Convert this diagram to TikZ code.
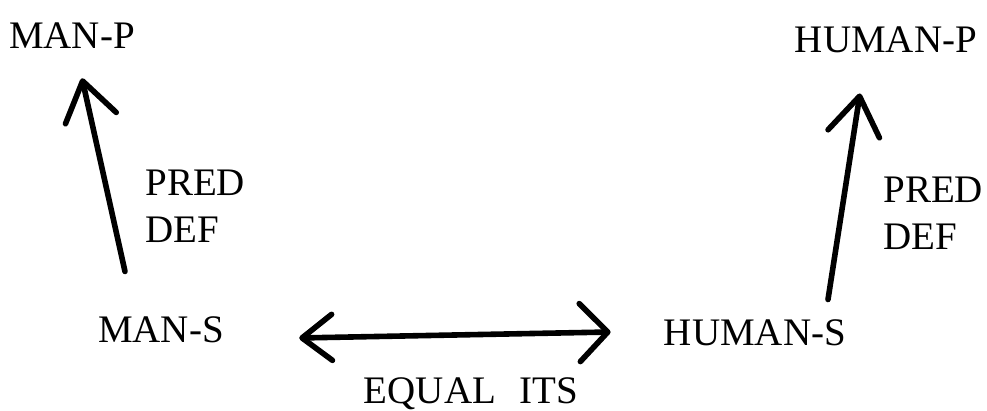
\documentclass[tikz,border=0pt]{standalone}
\usepackage{fontspec}
\setmainfont{Liberation Serif}
\usetikzlibrary{arrows.meta}
\begin{document}
\begin{tikzpicture}[x=0.5pt,y=0.5pt,
  lbl/.style={inner sep=0pt,font=\fontsize{19.5}{23.5}\selectfont},
  vec/.style={line width=2.8pt,line cap=round,-{Straight Barb[length=19pt,width=26pt,round]}},
  eqv/.style={line width=2.8pt,line cap=round,{Straight Barb[length=15pt,width=23pt,round]}-{Straight Barb[length=14pt,width=29pt,round]}}]
\useasboundingbox (0,0) rectangle (987,411);
\node[lbl] (manp) at (72,375) {MAN-P};
\node[lbl] (humanp) at (886,371) {HUMAN-P};
\node[lbl] (mans) at (161,81) {MAN-S};
\node[lbl] (humans) at (755,78) {HUMAN-S};
\node[lbl,anchor=west,align=left] (predl) at (145,205) {PRED\\DEF};
\node[lbl,anchor=west,align=left] (predr) at (883,198) {PRED\\DEF};
\node[lbl,anchor=base] (equal) at (471,7) {EQUAL\hspace{0.6em}ITS};
% PRED DEF
\draw[vec] ([shift={(-36,45)}]mans.north) -- ([shift={(10,-29)}]manp.south);
\draw[vec] ([shift={(73,20)}]humans.north) -- ([shift={(-26,-40)}]humanp.south);
% EQUAL ITS
\draw[eqv] ([shift={(75,-8)}]mans.east) -- ([shift={(-53,1)}]humans.west);
\end{tikzpicture}
\end{document}
